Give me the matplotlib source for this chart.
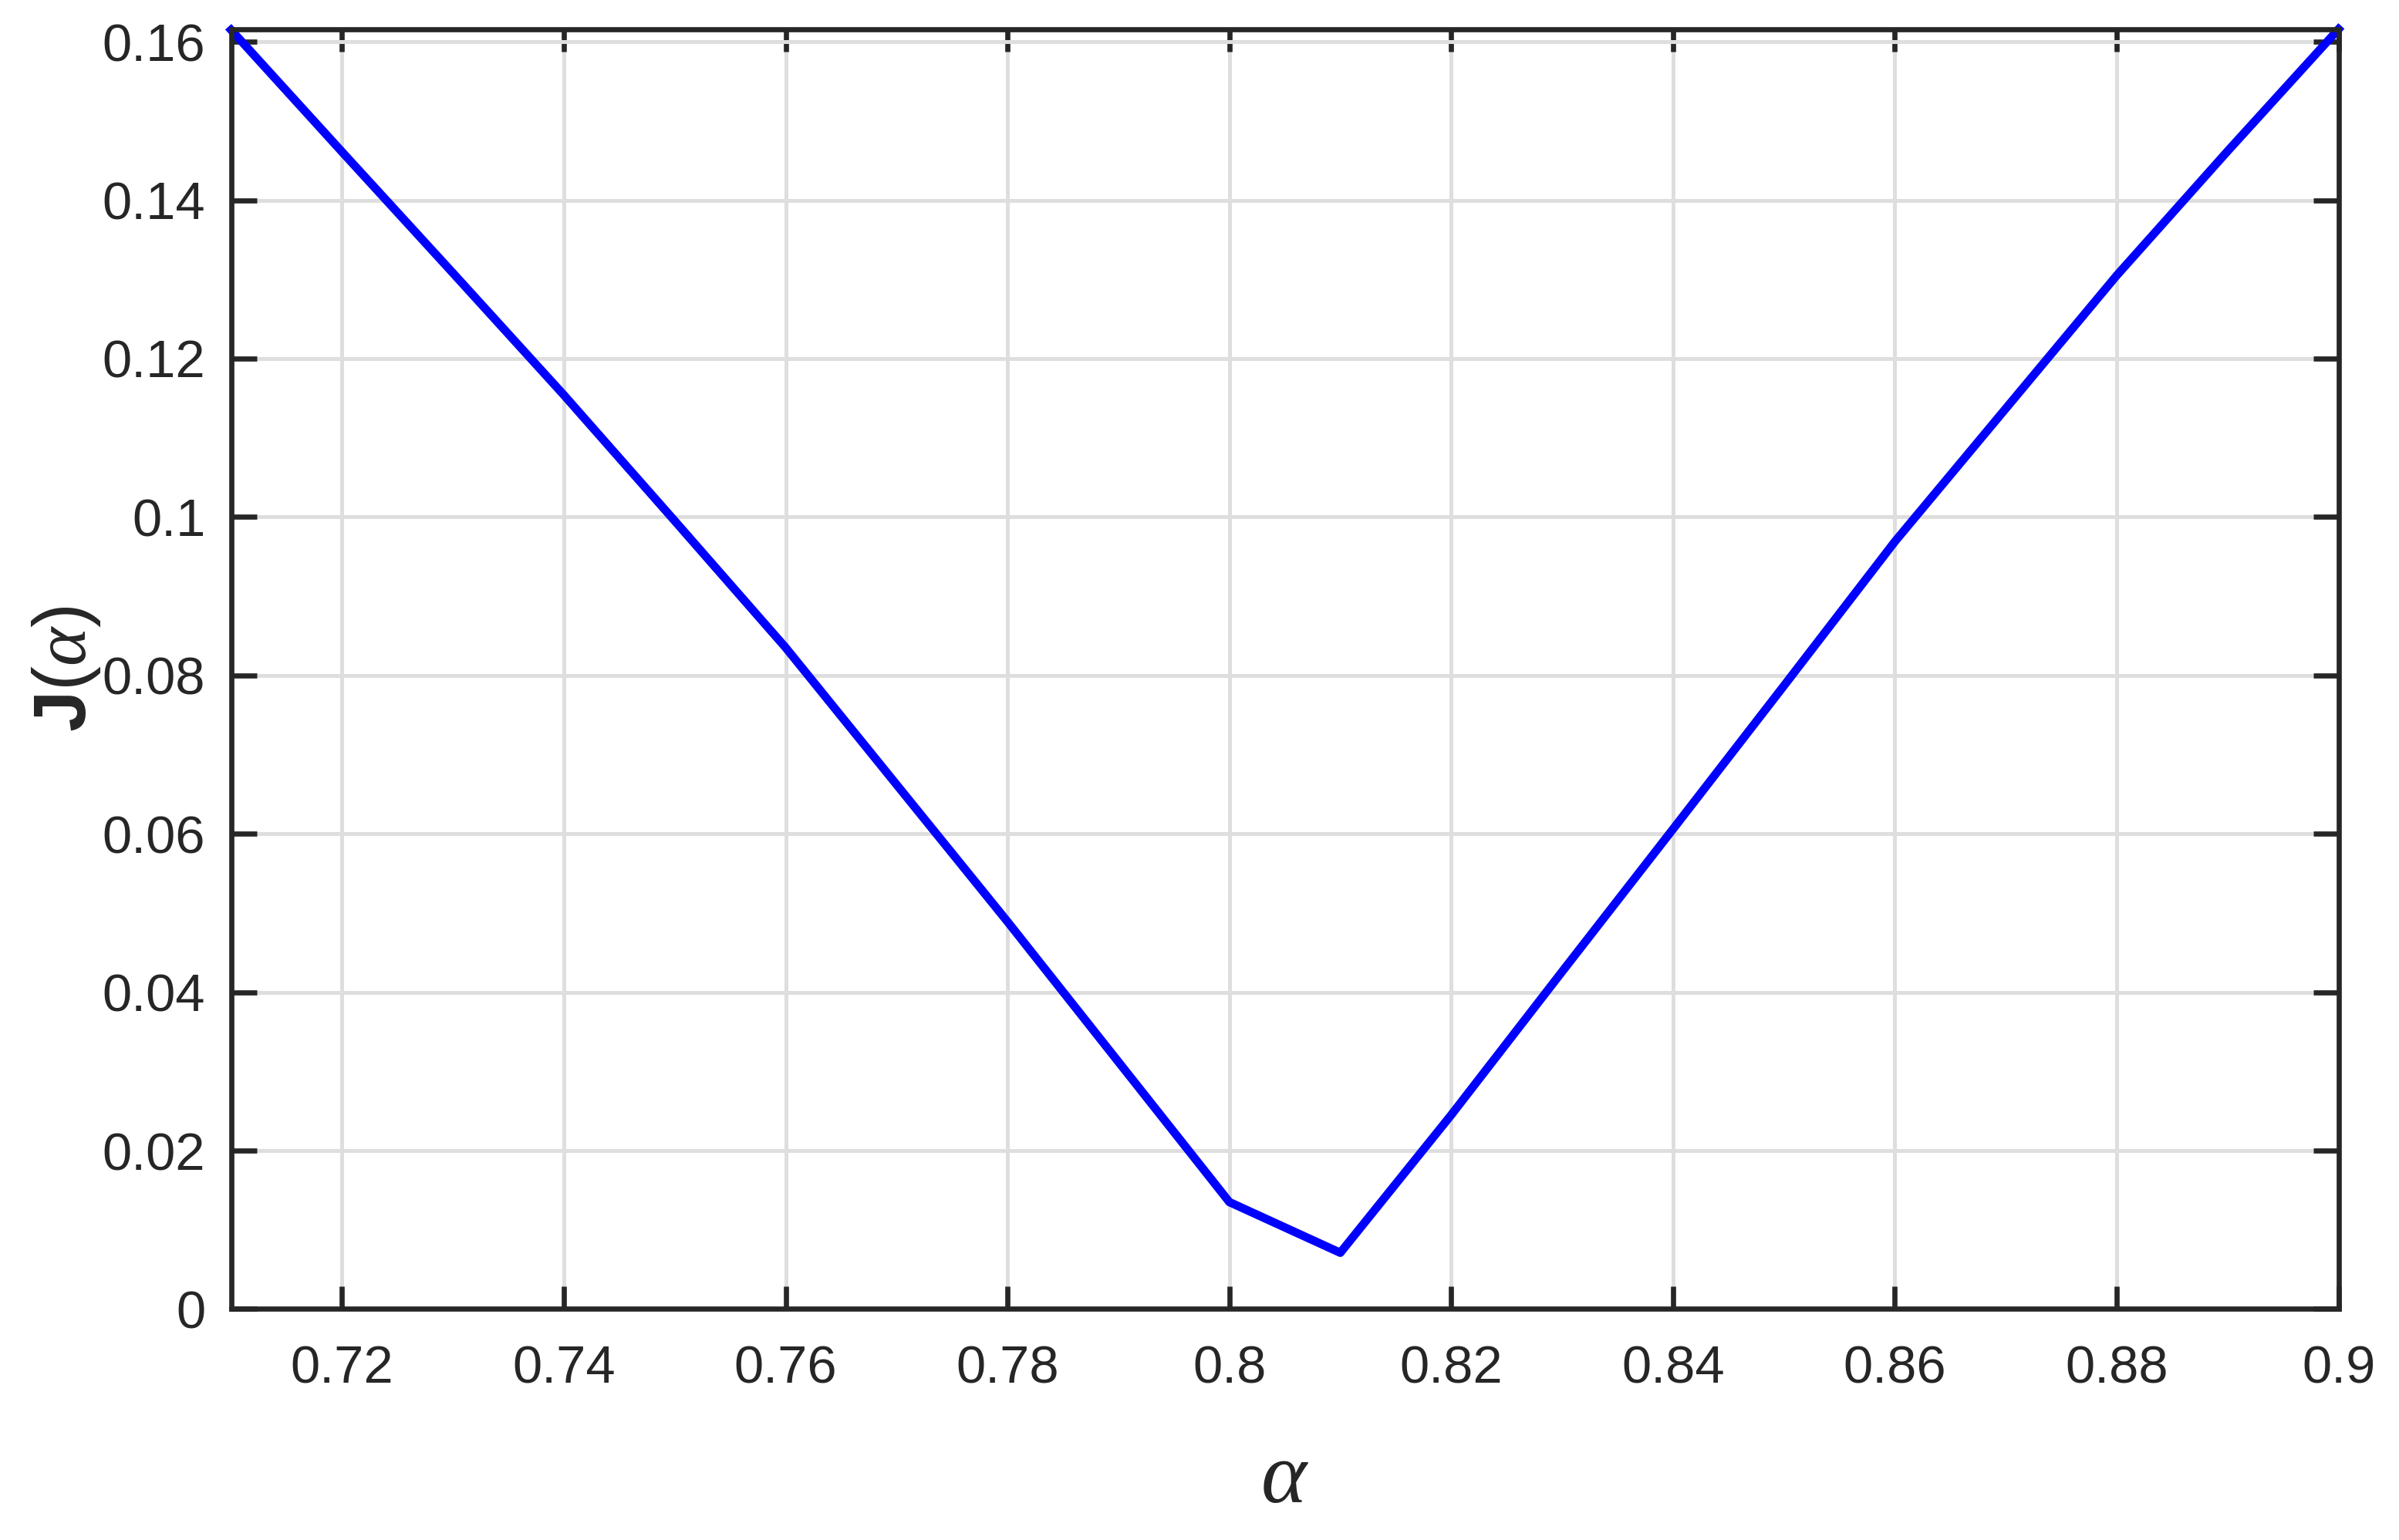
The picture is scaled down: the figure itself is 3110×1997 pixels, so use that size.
import numpy as np
import matplotlib
matplotlib.use("Agg")
import matplotlib.pyplot as plt
from matplotlib.ticker import FuncFormatter

# values
alpha = [0.71, 0.72, 0.73, 0.74, 0.75, 0.76, 0.77, 0.78, 0.79, 0.80,
         0.81, 0.82, 0.83, 0.84, 0.85, 0.86, 0.87, 0.88, 0.89, 0.90]
J = [0.1615, 0.1461, 0.1308, 0.1154, 0.0995, 0.0835, 0.0662, 0.0489, 0.0312, 0.0135,
     0.0071, 0.0245, 0.0426, 0.0606, 0.0787, 0.0969, 0.1137, 0.1305, 0.1462, 0.1616]

xticks = [0.72, 0.74, 0.76, 0.78, 0.80, 0.82, 0.84, 0.86, 0.88, 0.90]
yticks = [0, 0.02, 0.04, 0.06, 0.08, 0.10, 0.12, 0.14, 0.16]

plt.rcParams["font.family"] = ["Liberation Sans", "DejaVu Sans"]
plt.rcParams["mathtext.fontset"] = "custom"
plt.rcParams["mathtext.rm"] = "Liberation Sans"
plt.rcParams["mathtext.bf"] = "Liberation Sans:bold"
plt.rcParams["mathtext.it"] = "Liberation Serif:italic"

dark = "#262626"

fig = plt.figure(figsize=(3111 / 300, 1997 / 300), dpi=300)
ax = fig.add_axes([0.0963, 0.150, 0.8782, 0.8311])

ax.plot(alpha, J, color=(0, 0, 1), lw=2.6, zorder=3, clip_on=False)

ax.set_xlim(0.71, 0.90)
ax.set_ylim(0, 0.1616)
ax.set_xticks(xticks)
ax.set_yticks(yticks)
fmt = FuncFormatter(lambda v, p: f"{v:.2f}".rstrip("0").rstrip(".") if v != 0 else "0")
ax.xaxis.set_major_formatter(fmt)
ax.yaxis.set_major_formatter(fmt)

ax.grid(True, color="#dedede", lw=1.2)
ax.set_axisbelow(True)
for s in ax.spines.values():
    s.set_color(dark)
    s.set_linewidth(1.6)
    s.set_zorder(4)

ax.tick_params(axis="both", direction="in", top=True, right=True,
               colors=dark, labelsize=16.5, width=1.6)
ax.tick_params(axis="x", length=7, pad=11)
ax.tick_params(axis="y", length=8, pad=8)

ax.set_xlabel(r"$\alpha$", fontsize=27, color=dark, labelpad=14)
ax.set_ylabel(r"$\mathbf{J}(\alpha)$", fontsize=23, color=dark, labelpad=0)

fig.savefig("out.png", dpi=300)
